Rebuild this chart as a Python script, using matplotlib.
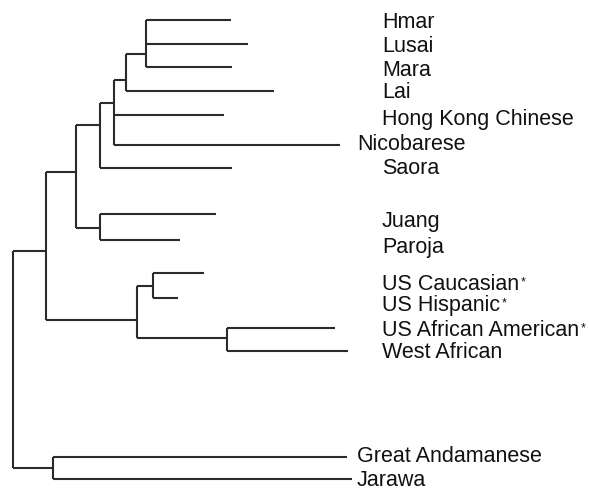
import matplotlib
matplotlib.use("Agg")
import matplotlib.pyplot as plt

plt.rcParams['font.family'] = ['Liberation Sans', 'DejaVu Sans']

# leaves (top to bottom), their tip distance and vertical slot
leaves = ["Hmar", "Lusai", "Mara", "Lai", "Hong Kong Chinese", "Nicobarese",
          "Saora", "Juang", "Paroja", "US Caucasian", "US Hispanic",
          "US African American", "West African", "Great Andamanese", "Jarawa"]
starred = ["US Caucasian", "US Hispanic", "US African American"]
leaf_tip = [231, 248, 232, 274, 224, 340, 232, 216, 180, 204, 178, 335, 348, 347, 352]
leaf_y = [21, 45, 68, 92, 116, 146, 169, 215, 241, 274, 299, 329, 352, 458, 480]
label_y = [22, 46, 70, 93, 119, 145, 168, 222, 247, 284, 305, 330, 353, 457, 480]

# internal nodes: name -> (split distance, joining y, children)
nodes = {
    "n1": (146, 55, ["Hmar", "Lusai", "Mara"]),
    "n2": (126, 81, ["n1", "Lai"]),
    "n3": (114, 104, ["n2", "Hong Kong Chinese", "Nicobarese"]),
    "n4": (100, 126, ["n3", "Saora"]),
    "n5": (100, 229, ["Juang", "Paroja"]),
    "n6": (76, 173, ["n4", "n5"]),
    "n7": (153, 287, ["US Caucasian", "US Hispanic"]),
    "n8": (227, 339, ["US African American", "West African"]),
    "n9": (137, 321, ["n7", "n8"]),
    "n10": (46, 252, ["n6", "n9"]),
    "n11": (53, 469, ["Great Andamanese", "Jarawa"]),
    "root": (13, 0, ["n10", "n11"]),
}

fig = plt.figure(figsize=(5.89, 4.89), dpi=100)
ax = fig.add_axes([0, 0, 1, 1])
ax.set_xlim(0, 589)
ax.set_ylim(489, 0)
ax.axis("off")

col = "#2b2b2b"
lw = 1.5


def pos(name):
    if name in nodes:
        return nodes[name][0], nodes[name][1]
    i = leaves.index(name)
    return leaf_tip[i], leaf_y[i]


for name, (x, y, kids) in nodes.items():
    ys = [pos(k)[1] for k in kids]
    ax.plot([x, x], [min(ys), max(ys)], color=col, lw=lw, solid_capstyle="butt")
    for k in kids:
        kx, ky = pos(k)
        ax.plot([x, kx], [ky, ky], color=col, lw=lw, solid_capstyle="butt")

outer = ["Nicobarese", "Great Andamanese", "Jarawa"]
for i, name in enumerate(leaves):
    lx = 357 if name in outer else 382
    t = ax.text(lx, label_y[i], name, fontsize=15.5, va="center", ha="left", color="#111111")
    if name in starred:
        # small asterisk tucked against the top right of the name
        ax.annotate("*", xy=(1, 0.88), xycoords=t, xytext=(1.5, 0), textcoords="offset points",
                    fontsize=9, va="top", ha="left", color="#111111")

fig.savefig("out.png", dpi=100)
